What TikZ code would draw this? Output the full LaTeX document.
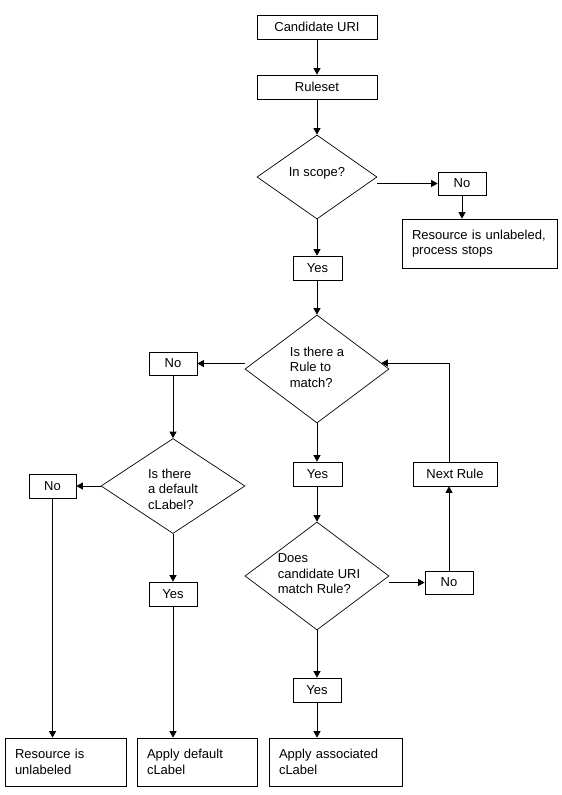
\documentclass[tikz,border=0pt]{standalone}
\usepackage{fontspec}
\setmainfont{Liberation Sans}
\usetikzlibrary{arrows.meta,shapes.geometric,calc}
\newcommand\dfont{\fontsize{13}{15.5}\selectfont}
\begin{document}
\begin{tikzpicture}[x=1pt,y=-1pt,
  box/.style={draw, line width=0.75pt, inner sep=0pt, font=\dfont},
  tbox/.style={box, align=left, inner xsep=10pt},
  dia/.style={draw, shape=diamond, inner sep=0pt, line width=0.7pt},
  lbl/.style={align=left, inner sep=0pt, font=\dfont},
  arr/.style={-{Triangle[length=6.5pt,width=7pt]}, line width=0.75pt}]
\useasboundingbox[fill=white] (0,0) rectangle (562,795);

% boxes
\node[box, minimum width=120pt, minimum height=24pt] (cand) at (317,27) {Candidate URI};
\node[box, minimum width=120pt, minimum height=24pt] (rules) at (317,87) {Ruleset};
\node[dia, minimum width=120pt, minimum height=84pt] (d1) at (317,177) {};
\node[lbl] (d1t) at ($(d1)+(0,-4)$) {In scope?};
\node[box, minimum width=48pt, minimum height=23pt] (no1) at (462,183.5) {No};
\node[tbox, text width=135pt, minimum height=49pt] (res1) at (479.5,243.5) {Resource is unlabeled,\\process stops};
\node[box, minimum width=49pt, minimum height=24pt] (yes1) at (317.5,268) {Yes};

\node[dia, minimum width=144pt, minimum height=108pt] (d2) at (317,369) {};
\node[lbl] (d2t) at ($(d2)+(0,-2)$) {Is there a\\Rule to\\match?};
\node[box, minimum width=48pt, minimum height=23pt] (no2) at (173,363.5) {No};
\node[box, minimum width=49pt, minimum height=24pt] (yes2) at (317.5,474) {Yes};
\node[box, minimum width=84pt, minimum height=24pt] (next) at (455,474) {Next Rule};

\node[dia, minimum width=144pt, minimum height=95pt] (d3) at (173,486) {};
\node[lbl] (d3t) at ($(d3)+(0,3)$) {Is there\\a default\\cLabel?};
\node[box, minimum width=47pt, minimum height=24pt] (no3) at (52.5,486) {No};
\node[box, minimum width=48pt, minimum height=24pt] (yes3) at (173,594) {Yes};

\node[dia, minimum width=144pt, minimum height=108pt] (d4) at (317,576) {};
\node[lbl] (d4t) at ($(d4)+(2,-2)$) {Does\\candidate URI\\match Rule?};
\node[box, minimum width=48pt, minimum height=23pt] (no4) at (449,582.5) {No};
\node[box, minimum width=48pt, minimum height=24pt] (yes4) at (317,690) {Yes};

\node[tbox, text width=101pt, minimum height=48pt] (b1) at (65.5,762) {Resource is\\unlabeled};
\node[tbox, text width=100pt, minimum height=48pt] (b2) at (197,762) {Apply default\\cLabel};
\node[tbox, text width=113pt, minimum height=48pt] (b3) at (335.5,762) {Apply associated\\cLabel};

\coordinate (d2in) at ($(d2.east)+(-8,-6)$);

% connectors
\draw[arr] (cand.south) -- (rules.north);
\draw[arr] (rules.south) -- (d1.north);
\draw[arr] (d1.east |- no1.west) -- (no1.west);
\draw[arr] (no1.south) -- (no1.south |- res1.north);
\draw[arr] (d1.south) -- (d1.south |- yes1.north);
\draw[arr] (yes1.south -| d2.north) -- (d2.north);
\draw[arr] (d2.west |- no2.east) -- (no2.east);
\draw[arr] (no2.south) -- (d3.north);
\draw[arr] (d3.west) -- (no3.east);
\draw[arr] (d3.south) -- (yes3.north);
\draw[arr] (yes3.south) -- (yes3.south |- b2.north);
\draw[arr] (no3.south) -- (no3.south |- b1.north);
\draw[arr] (d2.south) -- (d2.south |- yes2.north);
\draw[arr] (yes2.south -| d4.north) -- (d4.north);
\draw[arr] (d4.east |- no4.west) -- (no4.west);
\draw[arr] (no4.north) -- (no4.north |- next.south);
\draw[arr] (no4.north |- next.north) -- (no4.north |- d2in) -- (d2in);
\draw[arr] (d4.south) -- (yes4.north);
\draw[arr] (yes4.south) -- (yes4.south |- b3.north);
\end{tikzpicture}
\end{document}
